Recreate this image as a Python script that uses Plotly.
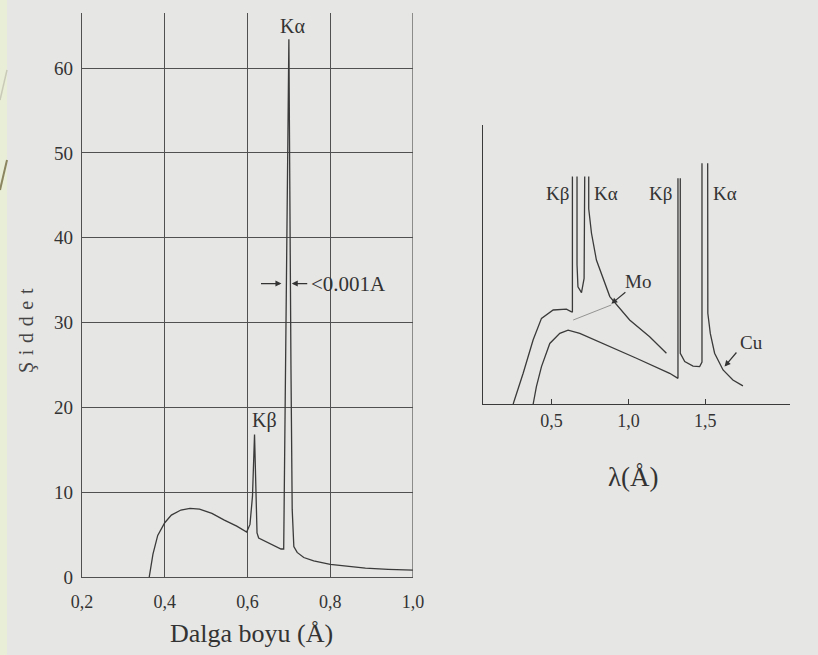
import plotly.graph_objects as go

# ---------------- data: left panel (Mo spectrum, Şiddet vs Dalga boyu) -------------
mo_x = [0.3625, 0.3715, 0.383, 0.40, 0.416, 0.439, 0.461, 0.484, 0.514, 0.544,
        0.574, 0.598, 0.606, 0.612, 0.617, 0.620, 0.623, 0.627, 0.681, 0.6875,
        0.700, 0.705, 0.708, 0.712, 0.72, 0.736, 0.76, 0.80, 0.85, 0.885, 0.94, 1.0]
mo_y = [0, 2.7, 4.9, 6.4, 7.3, 7.9, 8.1, 8.0, 7.5, 6.7,
        6.0, 5.3, 6.2, 9.5, 16.8, 9.0, 5.2, 4.6, 3.3, 3.3,
        63.4, 25, 8, 3.6, 2.9, 2.3, 1.9, 1.5, 1.2, 1.05, 0.9, 0.8]
left_xticks = [0.2, 0.4, 0.6, 0.8, 1.0]
left_xtick_text = ["0,2", "0,4", "0,6", "0,8", "1,0"]
left_yticks = [0, 10, 20, 30, 40, 50, 60]

# ---------------- data: right panel (Mo and Cu spectra) ---------------------------
mo2_x = [0.251, 0.316, 0.381, 0.435, 0.511, 0.597, 0.630, 0.636, 0.636, None,
         0.666, 0.666, 0.672, 0.695, 0.712, 0.716, None,
         0.742, 0.742, 0.760, 0.792, 0.879, 1.008, 1.138, 1.247]
mo2_y = [0, 11, 23, 30.7, 33.7, 34, 33.0, 33.0, 81.5, None,
         81.5, 50, 42, 39.9, 45, 81.5, None,
         81.5, 70, 61.2, 51.6, 38.5, 30.1, 24.1, 18.2]
mo2_cont_x = [0.641, 0.889]
mo2_cont_y = [30.1, 35.5]

cu_x = [0.381, 0.402, 0.435, 0.489, 0.554, 0.608, 0.684, 0.835, 1.052, 1.268,
        1.322, 1.322, None,
        1.337, 1.337, 1.366, 1.420, 1.463, 1.478, 1.478, None,
        1.515, 1.516, 1.532, 1.560, 1.615, 1.679, 1.744]
cu_y = [0, 6.2, 13.4, 21.7, 25.3, 26.5, 25.3, 21.7, 16.4, 11,
        9.2, 80.9, None,
        80.9, 18.2, 15.2, 13.6, 13.4, 15, 86.3, None,
        86.3, 32.5, 25.3, 18.2, 12.2, 8.6, 6.5]
right_xticks = [0.5, 1.0, 1.5]
right_xtick_text = ["0,5", "1,0", "1,5"]

FONT = "Liberation Serif"
INK = "#3a3a3a"
GRID = "#505050"

fig = go.Figure()
fig.add_trace(go.Scatter(x=mo_x, y=mo_y, mode="lines", xaxis="x", yaxis="y",
                         line=dict(color=INK, width=1.3), hoverinfo="skip"))
fig.add_trace(go.Scatter(x=mo2_x, y=mo2_y, mode="lines", xaxis="x2", yaxis="y2",
                         connectgaps=False,
                         line=dict(color=INK, width=1.3), hoverinfo="skip"))
fig.add_trace(go.Scatter(x=mo2_cont_x, y=mo2_cont_y, mode="lines", xaxis="x2", yaxis="y2",
                         line=dict(color="#8a8a8a", width=0.9), hoverinfo="skip"))
fig.add_trace(go.Scatter(x=cu_x, y=cu_y, mode="lines", xaxis="x2", yaxis="y2",
                         connectgaps=False,
                         line=dict(color=INK, width=1.3), hoverinfo="skip"))

W, H = 818, 655
def px(xp):
    return xp / W
def py(yp):
    return 1 - yp / H

fig.update_layout(
    width=W, height=H,
    margin=dict(l=0, r=0, t=0, b=0, autoexpand=False),
    paper_bgcolor="#e6e6e4",
    plot_bgcolor="rgba(0,0,0,0)",
    showlegend=False,
    font=dict(family=FONT, color="#333333"),
    xaxis=dict(domain=[px(82), px(413)], range=[0.2, 1.0],
               tickvals=left_xticks, ticktext=left_xtick_text,
               showgrid=True, gridcolor=GRID, gridwidth=1.2,
               showline=True, linecolor=GRID, linewidth=1.3,
               zeroline=False, ticks="", tickfont=dict(size=18, family=FONT),
               ticklabelstandoff=8, automargin=False,
               anchor="y", fixedrange=True),
    yaxis=dict(domain=[py(577), py(13)], range=[0, 66.5],
               tickvals=left_yticks,
               showgrid=True, gridcolor=GRID, gridwidth=1.2,
               showline=True, linecolor=GRID, linewidth=1.3,
               zeroline=False, ticks="", tickfont=dict(size=19, family=FONT),
               ticklabelstandoff=4, automargin=False,
               anchor="x", fixedrange=True),
    xaxis2=dict(domain=[px(483), px(790)], range=[0.055, 2.05],
                tickvals=right_xticks, ticktext=right_xtick_text,
                showgrid=False, showline=True, linecolor=INK, linewidth=1.3,
                zeroline=False, ticks="inside", ticklen=5, tickcolor=INK,
                tickfont=dict(size=18, family=FONT), automargin=False,
                anchor="y2", fixedrange=True),
    yaxis2=dict(domain=[py(404), py(125)], range=[0, 100],
                showgrid=False, showline=True, linecolor=INK, linewidth=1.3,
                zeroline=False, showticklabels=False, ticks="", automargin=False,
                anchor="x2", fixedrange=True),
)

# right border of left grid at 1,0
fig.add_shape(type="line", xref="x", yref="y domain", x0=1.0, x1=1.0, y0=0, y1=1,
              line=dict(color=GRID, width=1.2))

# decorative slide strip on the far left
fig.add_shape(type="rect", xref="paper", yref="paper", x0=0, x1=px(7), y0=0, y1=1,
              line=dict(width=0), fillcolor="#e9eed7", layer="below")
fig.add_shape(type="line", xref="paper", yref="paper", x0=px(7), y0=py(160),
              x1=0, y1=py(190), line=dict(color="#8c8660", width=2))
fig.add_shape(type="line", xref="paper", yref="paper", x0=px(7), y0=py(70),
              x1=0, y1=py(100), line=dict(color="#c9cbb8", width=1.5))

ann = []
# left panel labels
ann.append(dict(x=0.709, y=65.0, xref="x", yref="y", text="Kα", showarrow=False,
                font=dict(size=20, family=FONT, color="#333")))
ann.append(dict(x=0.640, y=18.4, xref="x", yref="y", text="Kβ", showarrow=False,
                font=dict(size=20, family=FONT, color="#333")))
ann.append(dict(x=0.682, y=34.6, ax=0.629, ay=34.6, xref="x", yref="y",
                axref="x", ayref="y", text="", showarrow=True, arrowhead=2,
                arrowsize=1, arrowwidth=1.2, arrowcolor="#333"))
ann.append(dict(x=0.707, y=34.6, ax=0.748, ay=34.6, xref="x", yref="y",
                axref="x", ayref="y", text="", showarrow=True, arrowhead=2,
                arrowsize=1, arrowwidth=1.2, arrowcolor="#333"))
ann.append(dict(x=0.749, y=34.6, xref="x", yref="y", text="<0.001A", showarrow=False,
                xanchor="left", font=dict(size=21, family=FONT, color="#333")))
# axis titles
ann.append(dict(x=px(251), y=py(633), xref="paper", yref="paper", text="Dalga boyu (Å)",
                xanchor="center", yanchor="middle",
                showarrow=False, font=dict(size=26, family=FONT, color="#333")))
ann.append(dict(x=px(26), y=py(331), xref="paper", yref="paper",
                text=" \u200a".join(list("Şiddet")),
                xanchor="center", yanchor="middle",
                textangle=-90, showarrow=False, font=dict(size=20, family=FONT, color="#444")))
ann.append(dict(x=px(633), y=py(477), xref="paper", yref="paper", text="λ(Å)",
                xanchor="center", yanchor="middle",
                showarrow=False, font=dict(size=27, family=FONT, color="#333")))
# right panel labels
for lx, lt in [(0.537, "Kβ"), (0.857, "Kα"), (1.208, "Kβ"), (1.625, "Kα")]:
    ann.append(dict(x=lx, y=75.5, xref="x2", yref="y2", text=lt, showarrow=False,
                    font=dict(size=19, family=FONT, color="#333")))
ann.append(dict(x=1.063, y=43.8, xref="x2", yref="y2", text="Mo", showarrow=False,
                font=dict(size=19, family=FONT, color="#333")))
ann.append(dict(x=0.889, y=35.9, ax=0.99, ay=40.5, xref="x2", yref="y2",
                axref="x2", ayref="y2", text="", showarrow=True, arrowhead=2,
                arrowsize=1, arrowwidth=1.2, arrowcolor="#333"))
ann.append(dict(x=1.80, y=21.9, xref="x2", yref="y2", text="Cu", showarrow=False,
                font=dict(size=19, family=FONT, color="#333")))
ann.append(dict(x=1.625, y=13.4, ax=1.71, ay=19.0, xref="x2", yref="y2",
                axref="x2", ayref="y2", text="", showarrow=True, arrowhead=2,
                arrowsize=1, arrowwidth=1.2, arrowcolor="#333"))
fig.update_layout(annotations=ann)

fig.write_html("out.html",
               config={"displayModeBar": False},
               post_script="document.body.style.margin='0px';"
                           "document.body.style.overflow='hidden';"
                           "document.body.style.background='#e6e6e4';")
